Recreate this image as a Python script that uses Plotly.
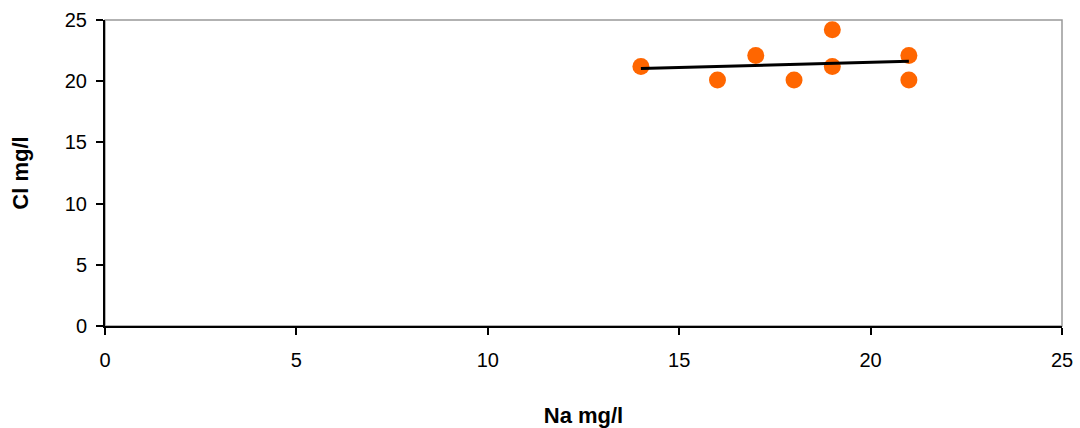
import numpy as np
import plotly.graph_objects as go

na_values = [14, 16, 17, 18, 19, 19, 21, 21]
cl_values = [21.2, 20.1, 22.1, 20.1, 24.2, 21.2, 22.1, 20.1]
x_ticks = [0, 5, 10, 15, 20, 25]
y_ticks = [0, 5, 10, 15, 20, 25]

slope, intercept = np.polyfit(na_values, cl_values, 1)
trend_x = [min(na_values), max(na_values)]
trend_y = [slope * v + intercept for v in trend_x]

fig = go.Figure()
fig.add_trace(go.Scatter(
    x=na_values, y=cl_values, mode="markers",
    marker=dict(color="#FF6600", size=17, line=dict(width=0)),
    showlegend=False,
))
fig.add_trace(go.Scatter(
    x=trend_x, y=trend_y, mode="lines",
    line=dict(color="black", width=3),
    showlegend=False,
))

fig.add_shape(type="rect", xref="paper", yref="paper", x0=0, y0=0, x1=1, y1=1,
              line=dict(color="#999999", width=1.5), layer="below")

fam = "Liberation Sans"
tickfont = dict(family=fam, size=20, color="black")
titlefont = dict(family=fam, size=22, color="black")
fig.update_layout(
    width=1080, height=428,
    margin=dict(l=105, r=18, t=20, b=102),
    paper_bgcolor="white", plot_bgcolor="white",
    font=dict(family=fam, size=20, color="black"),
    xaxis=dict(
        range=[0, 25], tickvals=x_ticks, showgrid=False, zeroline=False,
        showline=True, linecolor="black", linewidth=2, automargin=False,
        ticks="outside", ticklen=7, tickcolor="black", tickwidth=1.5,
        ticklabelstandoff=8, tickfont=tickfont,
        title=dict(text="<b>Na mg/l</b>", standoff=38, font=titlefont),
    ),
    yaxis=dict(
        range=[0, 25], tickvals=y_ticks, showgrid=False, zeroline=False,
        showline=True, linecolor="black", linewidth=2, automargin=False,
        ticks="outside", ticklen=7, tickcolor="black", tickwidth=1.5,
        ticklabelstandoff=5, tickfont=tickfont,
        title=dict(text="<b>Cl mg/l</b>", standoff=30, font=titlefont),
    ),
)

fig.write_html("out.html")
